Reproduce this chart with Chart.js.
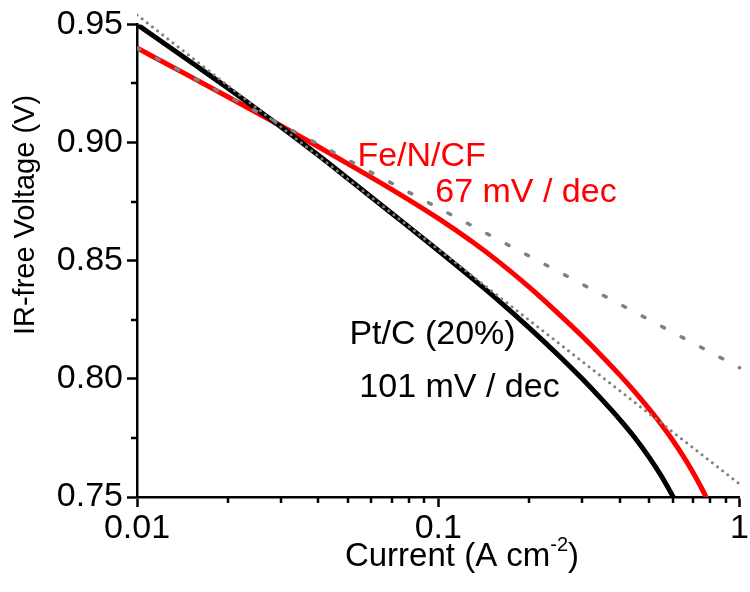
<!DOCTYPE html>
<html>
<head>
<meta charset="utf-8">
<script src="https://cdn.jsdelivr.net/npm/chart.js@4"></script>
<style>
  body { margin: 0; background: #fff; }
  #wrap { width: 750px; height: 592px; }
</style>
</head>
<body>
<div id="wrap"><canvas id="tafelChart"></canvas></div>
<script>
// Pt/C (20%) polarisation curve
const ptCurrent = [0.01, 0.015, 0.02, 0.03, 0.04, 0.05, 0.07, 0.1, 0.13, 0.16, 0.2, 0.25, 0.3, 0.35, 0.4, 0.45, 0.5, 0.55, 0.6, 0.62];
const ptVoltage = [0.9500, 0.9343, 0.9231, 0.9067, 0.8946, 0.8849, 0.8701, 0.8543, 0.8424, 0.8327, 0.8217, 0.8101, 0.8001, 0.7911, 0.7829, 0.7750, 0.7670, 0.7589, 0.7504, 0.7470];

// Fe/N/CF polarisation curve
const feCurrent = [0.01, 0.015, 0.02, 0.03, 0.04, 0.05, 0.07, 0.1, 0.13, 0.16, 0.2, 0.25, 0.3, 0.35, 0.4, 0.45, 0.5, 0.55, 0.6, 0.65, 0.7, 0.75, 0.8];
const feVoltage = [0.9400, 0.9280, 0.9194, 0.9071, 0.8982, 0.8911, 0.8802, 0.8679, 0.8579, 0.8492, 0.8389, 0.8277, 0.8181, 0.8095, 0.8017, 0.7944, 0.7874, 0.7807, 0.7740, 0.7673, 0.7605, 0.7535, 0.7462];

// Tafel fit lines (end points)
const ptFitCurrent = [0.01, 1];
const ptFitVoltage = [0.954, 0.7555];
const feFitCurrent = [0.01, 1];
const feFitVoltage = [0.940, 0.8047];

// axis ticks
const xMajor = [0.01, 0.1, 1];
const xMajorLabels = ['0.01', '0.1', '1'];
const xMinor = [0.02, 0.03, 0.04, 0.05, 0.06, 0.07, 0.08, 0.09, 0.2, 0.3, 0.4, 0.5, 0.6, 0.7, 0.8, 0.9];
const yMajor = [0.75, 0.80, 0.85, 0.90, 0.95];
const yMajorLabels = ['0.75', '0.80', '0.85', '0.90', '0.95'];
const yMinor = [0.775, 0.825, 0.875, 0.925];

// text notes next to the curves (data coords of left/baseline)
const noteText = ['Fe/N/CF', '67 mV / dec', 'Pt/C (20%)', '101 mV / dec'];
const noteX = [0.0539, 0.0977, 0.0507, 0.0547];
const noteY = [0.8899, 0.8748, 0.8147, 0.7922];
const noteColor = ['#ff0000', '#ff0000', '#000000', '#000000'];

const FONT = "'Liberation Sans', Arial, sans-serif";

function toPoints(xs, ys) {
    return xs.map((x, i) => ({ x: x, y: ys[i] }));
}

const overlay = {
    id: 'overlay',
    afterDraw(chart) {
        const ctx = chart.ctx;
        const xs = chart.scales.x;
        const ys = chart.scales.y;
        const area = chart.chartArea;
        ctx.save();
        // minor ticks
        ctx.strokeStyle = '#000';
        ctx.lineWidth = 2.5;
        ctx.beginPath();
        yMinor.forEach(v => {
            const py = Math.round(ys.getPixelForValue(v));
            ctx.moveTo(area.left, py);
            ctx.lineTo(area.left - 6, py);
        });
        xMinor.forEach(v => {
            const px = Math.round(xs.getPixelForValue(v));
            ctx.moveTo(px, area.bottom);
            ctx.lineTo(px, area.bottom + 6);
        });
        ctx.stroke();

        // notes
        ctx.font = '34px ' + FONT;
        ctx.textAlign = 'left';
        ctx.textBaseline = 'alphabetic';
        noteText.forEach((t, i) => {
            ctx.fillStyle = noteColor[i];
            ctx.fillText(t, xs.getPixelForValue(noteX[i]), ys.getPixelForValue(noteY[i]));
        });

        // x title with superscript
        ctx.fillStyle = '#000';
        const main = 'Current (A cm';
        const sup = '-2';
        const tail = ')';
        ctx.font = '33px ' + FONT;
        const w1 = ctx.measureText(main).width;
        const w3 = ctx.measureText(tail).width;
        ctx.font = '20px ' + FONT;
        const w2 = ctx.measureText(sup).width;
        const x0 = 462 - (w1 + w2 + w3) / 2;
        const base = 566;
        ctx.font = '33px ' + FONT;
        ctx.fillText(main, x0, base);
        ctx.font = '20px ' + FONT;
        ctx.fillText(sup, x0 + w1, base - 15);
        ctx.font = '33px ' + FONT;
        ctx.fillText(tail, x0 + w1 + w2, base);

        // y title
        ctx.translate(34, 215);
        ctx.rotate(-Math.PI / 2);
        ctx.textAlign = 'center';
        ctx.font = '29px ' + FONT;
        ctx.fillText('IR-free Voltage (V)', 0, 0);
        ctx.restore();
    }
};

document.addEventListener('DOMContentLoaded', function () {
    const ctx = document.getElementById('tafelChart').getContext('2d');
    new Chart(ctx, {
        type: 'line',
        data: {
            datasets: [
                {
                    data: toPoints(ptFitCurrent, ptFitVoltage),
                    borderColor: '#808080',
                    borderWidth: 3,
                    borderDash: [0.01, 6.5],
                    borderCapStyle: 'round',
                    pointRadius: 0,
                    clip: { left: 0, top: 15, right: 10, bottom: 0 }
                },
                {
                    data: toPoints(feFitCurrent, feFitVoltage),
                    borderColor: '#808080',
                    borderWidth: 3.5,
                    borderDash: [3, 19],
                    borderCapStyle: 'round',
                    pointRadius: 0,
                    clip: { left: 0, top: 15, right: 10, bottom: 0 }
                },
                {
                    data: toPoints(ptCurrent, ptVoltage),
                    borderColor: '#000000',
                    borderWidth: 5,
                    pointRadius: 0,
                    cubicInterpolationMode: 'monotone'
                },
                {
                    data: toPoints(feCurrent, feVoltage),
                    borderColor: '#ff0000',
                    borderWidth: 5,
                    pointRadius: 0,
                    cubicInterpolationMode: 'monotone'
                }
            ]
        },
        options: {
            responsive: true,
            maintainAspectRatio: false,
            animation: false,
            layout: { padding: { top: 18, right: 9, left: 0, bottom: 0 } },
            plugins: {
                legend: { display: false },
                tooltip: { enabled: false }
            },
            scales: {
                x: {
                    type: 'logarithmic',
                    min: 0.01,
                    max: 1,
                    afterBuildTicks: scale => { scale.ticks = xMajor.map(v => ({ value: v })); },
                    afterFit: scale => { scale.height = 95; },
                    ticks: {
                        autoSkip: false,
                        maxRotation: 0,
                        color: '#000',
                        padding: 1,
                        font: { family: FONT, size: 34 },
                        callback: (v, i) => xMajorLabels[i]
                    },
                    grid: { drawOnChartArea: false, tickLength: 10, tickWidth: 2.5, tickColor: '#000' },
                    border: { color: '#000', width: 2.5 }
                },
                y: {
                    min: 0.75,
                    max: 0.95,
                    afterBuildTicks: scale => { scale.ticks = yMajor.map(v => ({ value: v })); },
                    afterFit: scale => { scale.width = 137; },
                    ticks: {
                        color: '#000',
                        padding: 4,
                        font: { family: FONT, size: 34 },
                        callback: (v, i) => yMajorLabels[i]
                    },
                    grid: { drawOnChartArea: false, tickLength: 10, tickWidth: 2.5, tickColor: '#000' },
                    border: { color: '#000', width: 2.5 }
                }
            }
        },
        plugins: [overlay]
    });
});
</script>
</body>
</html>
